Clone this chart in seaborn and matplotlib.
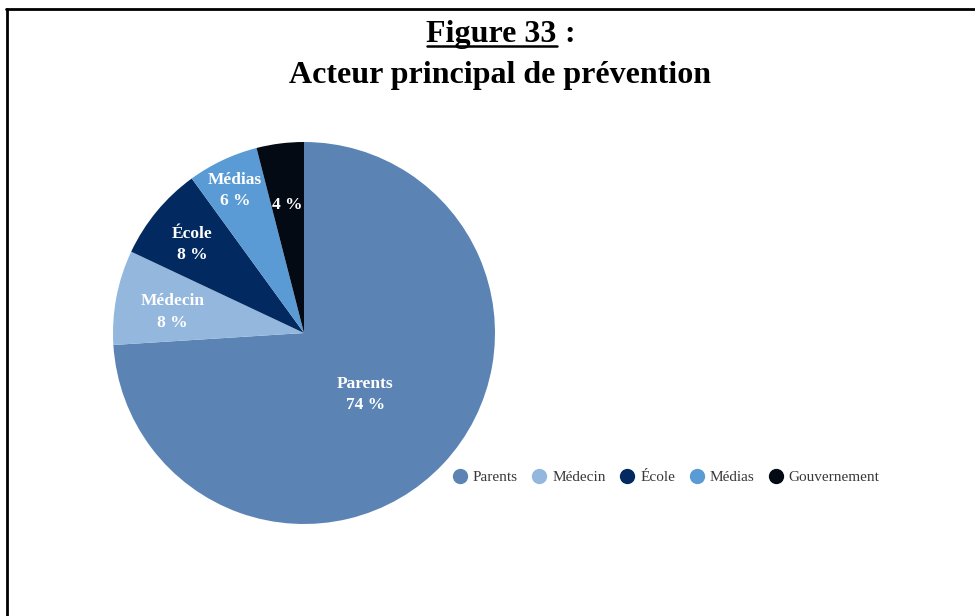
import matplotlib
matplotlib.use("Agg")
import matplotlib.pyplot as plt
from matplotlib.lines import Line2D
import matplotlib.transforms as mtransforms
import numpy as np
import seaborn as sns

# Data
categories = ["Parents", "Médecin", "École", "Médias", "Gouvernement"]
shares = [74, 8, 8, 6, 4]
slice_colors = ["#5b84b5", "#94b7dd", "#022a60", "#5a9bd5", "#040a14"]
show_name = [True, True, True, True, False]
label_radius = [0.44, 0.70, 0.76, 0.85, 0.70]

sns.set_theme(style="white")
plt.rcParams["font.family"] = ["Liberation Serif", "DejaVu Serif"]
plt.rcParams["text.color"] = "black"

fig = plt.figure(figsize=(9.75, 6.16), dpi=100)
fig.patch.set_facecolor("white")

# Pie axes: centred at (304, 333) px with radius ~191 px
W, H = 975, 616
cx, cy, r = 304, 333, 191
ax = fig.add_axes([(cx - r) / W, 1 - (cy + r) / H, 2 * r / W, 2 * r / H])
palette = sns.color_palette(slice_colors)
wedges, _ = ax.pie(shares, colors=palette, startangle=90, counterclock=False,
                   radius=1.0, wedgeprops=dict(linewidth=0))
ax.set_xlim(-1, 1)
ax.set_ylim(-1, 1)
ax.set_aspect("auto")
ax.axis("off")

# slice labels, nudged a few pixels down
label_tf = ax.transData + mtransforms.ScaledTranslation(0, -3 / 72, fig.dpi_scale_trans)
for w, name, val, show, rd in zip(wedges, categories, shares, show_name, label_radius):
    ang = np.deg2rad((w.theta1 + w.theta2) / 2)
    x, y = rd * np.cos(ang), rd * np.sin(ang)
    txt = f"{name}\n{val} %" if show else f"{val} %"
    ax.text(x, y, txt, ha="center", va="center", color="white", transform=label_tf,
            fontsize=12.5, fontweight="bold", linespacing=1.45)

# Legend
handles = [Line2D([], [], marker="o", linestyle="", markersize=10,
                  markerfacecolor=c, markeredgecolor=c) for c in palette]
fig.legend(handles, categories, loc="center", bbox_to_anchor=(0.683, 1 - 477 / H),
           ncol=5, frameon=False, fontsize=11, handletextpad=0.35,
           columnspacing=0.9, handlelength=1.0, labelcolor="#383838")

# Title with underlined figure number
fig.canvas.draw()
renderer = fig.canvas.get_renderer()
title_size = 23
t1 = fig.text(0, 0, "Figure 33", fontsize=title_size, fontweight="bold", color="black")
t2 = fig.text(0, 0, " :", fontsize=title_size, fontweight="bold", color="black")
w1 = t1.get_window_extent(renderer).width
w2 = t2.get_window_extent(renderer).width
x0 = 501 - (w1 + w2) / 2
base_y = H - 42
t1.set_position((x0 / W, base_y / H))
t2.set_position(((x0 + w1) / W, base_y / H))
t1.set_va("baseline")
t2.set_va("baseline")
fig.add_artist(Line2D([x0 / W, (x0 + w1) / W], [(base_y - 4) / H, (base_y - 4) / H],
                      color="black", linewidth=1.8, transform=fig.transFigure))
fig.text(500 / W, 1 - 75 / H, "Acteur principal de prévention", fontsize=title_size,
         fontweight="bold", ha="center", va="center", color="black")

# Frame lines (left and top)
fig.add_artist(Line2D([7 / W, 7 / W], [0, 1 - 9 / H], color="black", linewidth=2,
                      transform=fig.transFigure))
fig.add_artist(Line2D([6 / W, 1], [1 - 9 / H, 1 - 9 / H], color="black", linewidth=2,
                      transform=fig.transFigure))

fig.savefig("out.png", dpi=100, facecolor="white")
